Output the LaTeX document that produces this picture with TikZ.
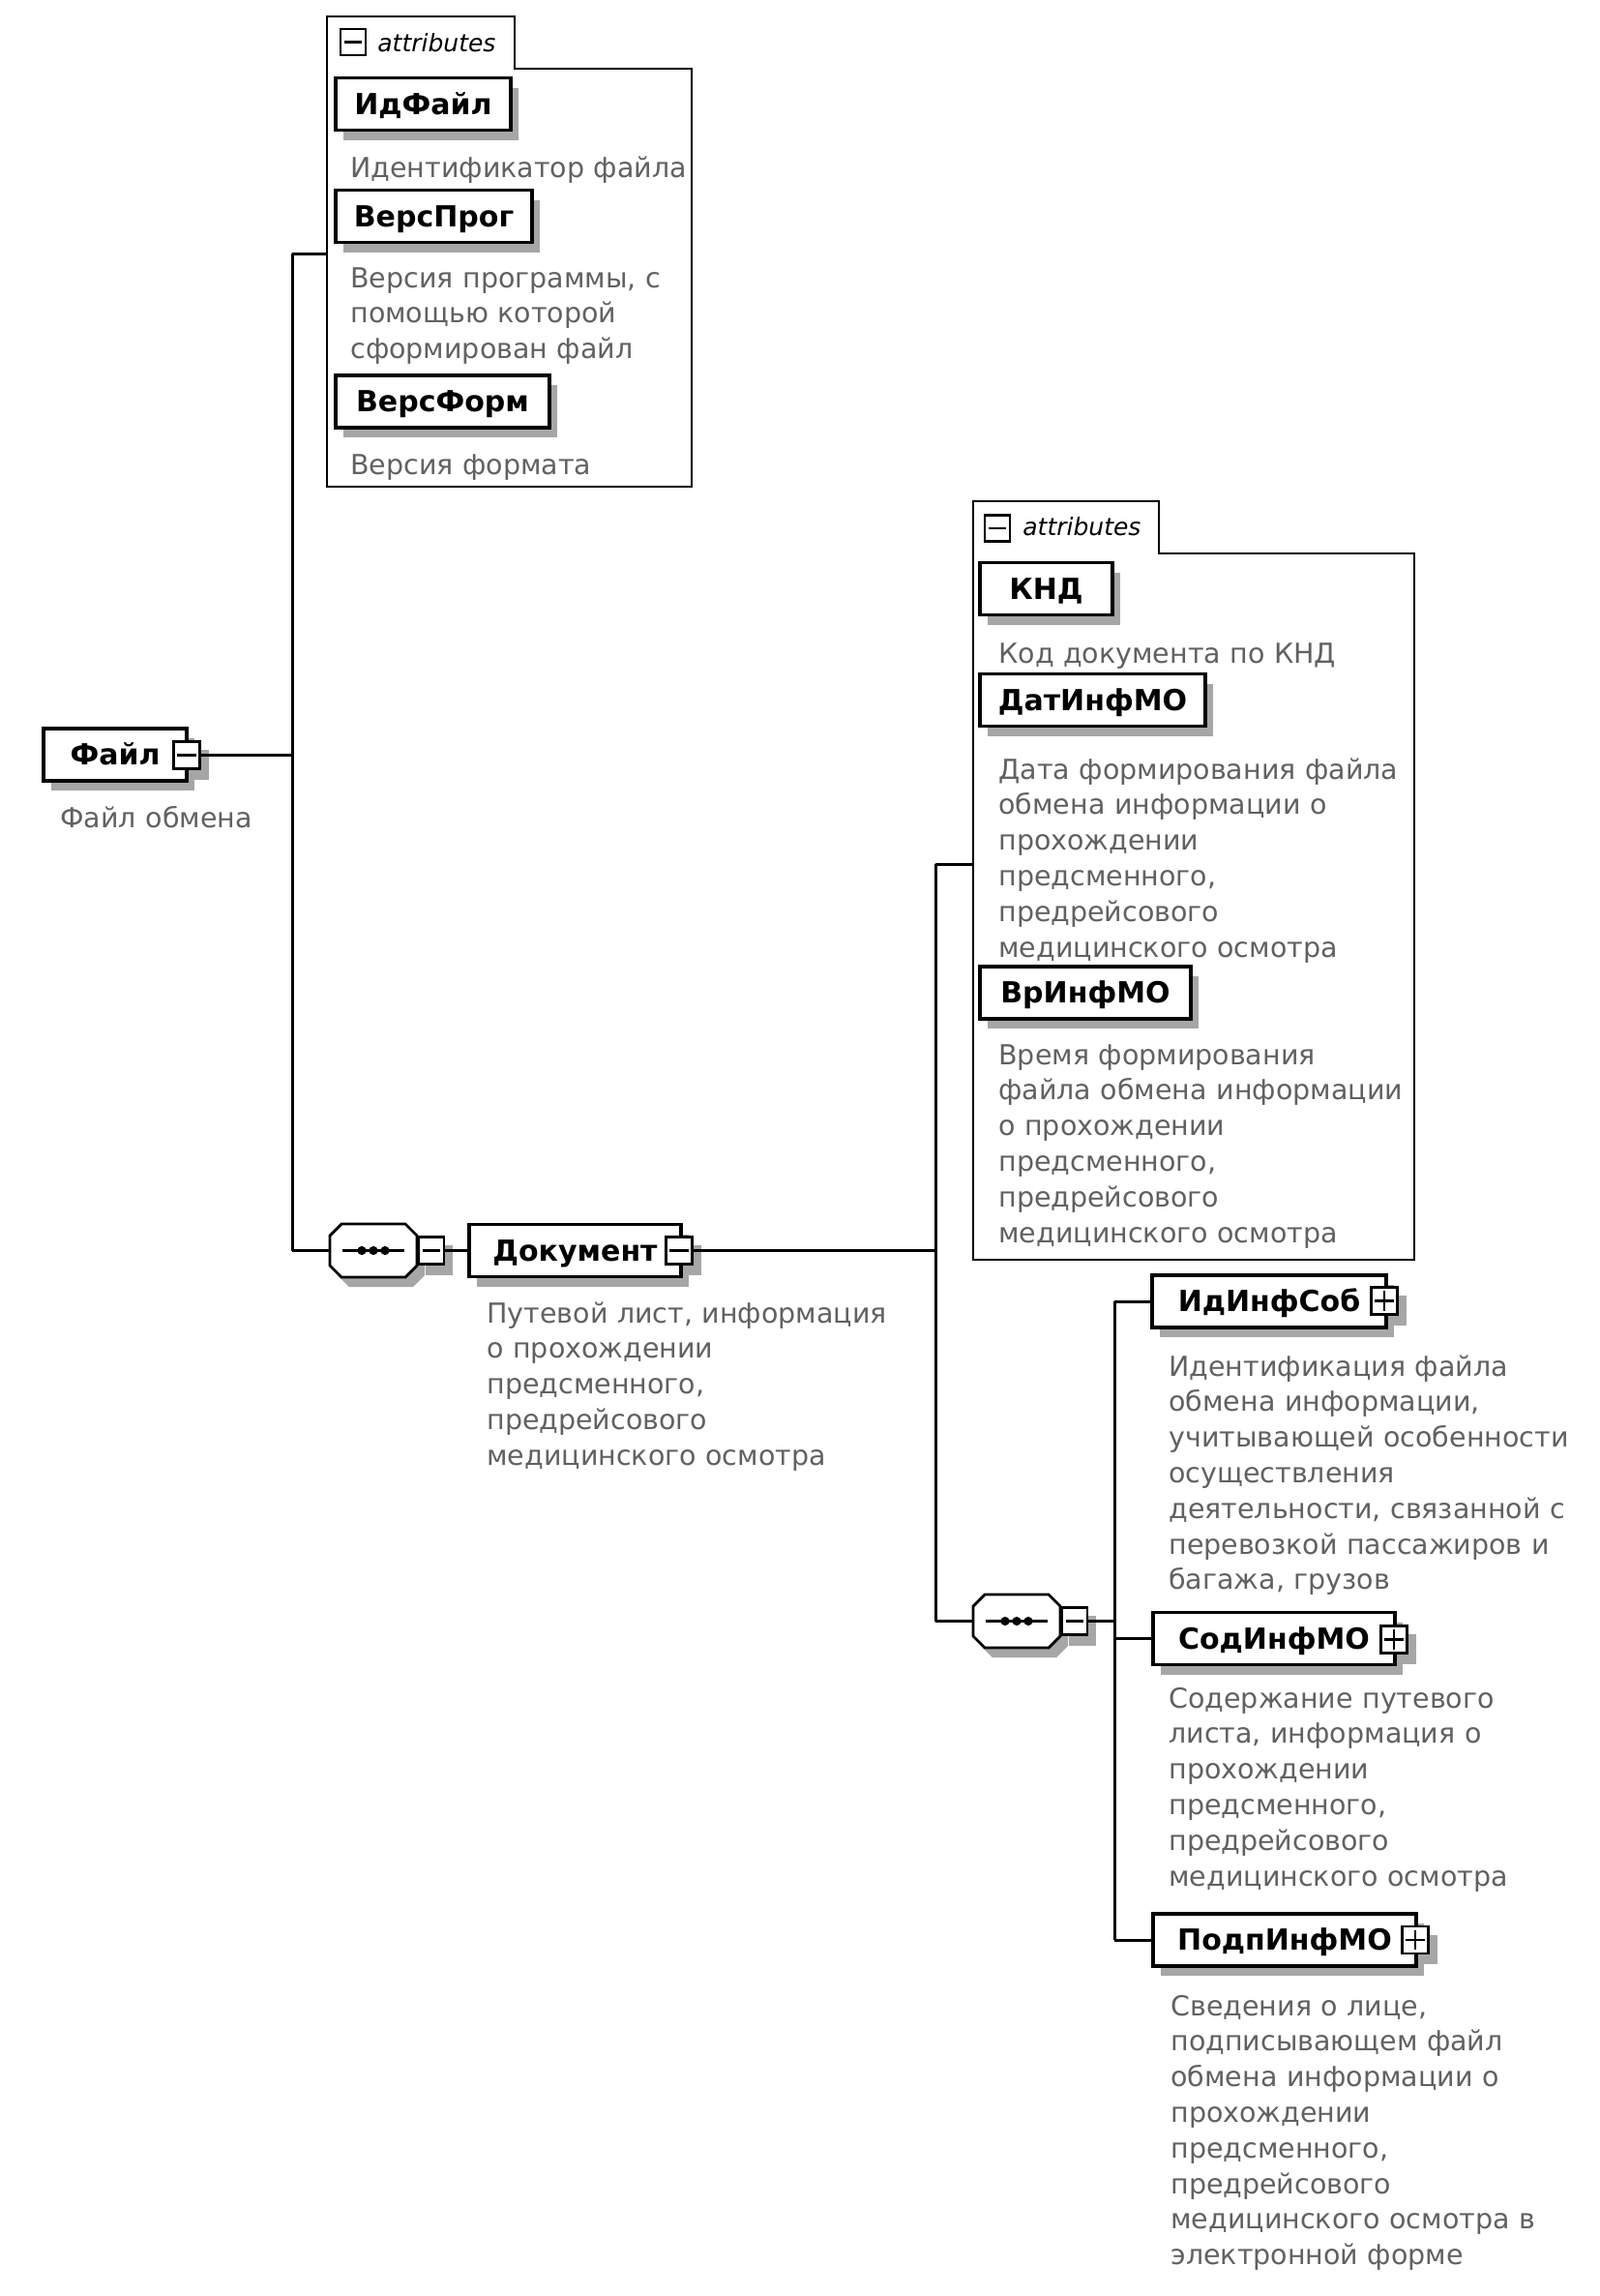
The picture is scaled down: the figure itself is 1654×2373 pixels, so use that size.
\documentclass[tikz,border=0pt]{standalone}
\usepackage{fontspec}
\setmainfont{DejaVu Sans}
\usetikzlibrary{shadows,backgrounds}
\newcommand{\lblfont}{\fontsize{15pt}{18pt}\selectfont\bfseries}
\newcommand{\dscfont}{\fontsize{14.25pt}{18.4pt}\selectfont}
\newcommand{\attfont}{\fontsize{12.5pt}{15pt}\selectfont\itshape}
\tikzset{
  shd/.style={drop shadow={shadow xshift=4pt, shadow yshift=-5pt, fill=black!35, opacity=1}},
  elem/.style={draw, line width=1.7pt, fill=white, inner sep=0pt, minimum height=27pt,
    text height=10.9pt, text depth=0pt, font=\lblfont, shd},
  dsc/.style={anchor=base west, inner sep=0pt, text width=240pt, align=left,
    font=\dscfont, text=black!62},
  attlbl/.style={anchor=base west, inner sep=0pt, font=\attfont},
  conn/.style={line width=1.5pt},
  cont/.style={line width=1.3pt},
  btnbase/.style={draw, line width=1.2pt, fill=white, inner sep=0pt,
    minimum width=13.5pt, minimum height=14pt},
  minusbtn/.style={btnbase, path picture={\draw[line width=1.2pt]
    ([xshift=1.8pt]path picture bounding box.west) --
    ([xshift=-1.8pt]path picture bounding box.east);}},
  plusbtn/.style={btnbase, path picture={\draw[line width=1.2pt]
    ([xshift=1.8pt]path picture bounding box.west) --
    ([xshift=-1.8pt]path picture bounding box.east)
    ([yshift=-1.8pt]path picture bounding box.north) --
    ([yshift=1.8pt]path picture bounding box.south);}},
  seqnode/.style={inner sep=0pt, minimum width=45pt, minimum height=27.5pt},
  shdc/.style={fill=black!35},
}
\newcommand{\seqgroup}[3]{%
  \node[seqnode] (#1) at (#2,#3) {};
  \begin{scope}[shift={(#2,#3)}]
    \fill[shdc] (-25,-17.5) -- (41,-17.5) -- (53,-5.5) -- (53,25.5) -- (41,37.5)
      -- (-25,37.5) -- (-37,25.5) -- (-37,-5.5) -- cycle;
    \draw[line width=1.4pt, fill=white] (-33,-27.5) -- (33,-27.5) -- (45,-15.5) -- (45,15.5)
      -- (33,27.5) -- (-33,27.5) -- (-45,15.5) -- (-45,-15.5) -- cycle;
    \draw[line width=1.1pt] (-32,0) -- (32,0);
    \fill (-12,0) circle[radius=2.3pt] (0,0) circle[radius=2.3pt] (12,0) circle[radius=2.3pt];
  \end{scope}}
\begin{document}
\begin{tikzpicture}[x=0.5pt,y=-0.5pt]
\begin{pgfonlayer}{background}
  \fill[white] (0,0) rectangle (1654,2373);
\end{pgfonlayer}
\useasboundingbox (0,0) rectangle (1654,2373);

% ---------- attributes of Файл ----------
\draw[cont] (338,17) -- (532,17) -- (532,71) -- (715,71) -- (715,503) -- (338,503) -- cycle;
\coordinate (att1) at (338,262);
\node[minusbtn, minimum width=13pt, minimum height=13.5pt] (cb1) at (365,43.5) {};
\node[attlbl] (attl1) at (390,53) {attributes};
\node[elem, minimum width=90.5pt] (idfail) at (437.5,107.5) {ИдФайл};
\node[dsc] (didfail) at (362,183) {Идентификатор файла};
\node[elem, minimum width=101.5pt] (versprog) at (448.5,223.5) {ВерсПрог};
\node[dsc] (dversprog) at (362,297) {Версия программы, с\\помощью которой\\сформирован файл};
\node[elem, minimum width=110.5pt] (versform) at (457.5,415) {ВерсФорм};
\node[dsc] (dversform) at (362,490) {Версия формата};

% ---------- Файл ----------
\node[elem, minimum width=74pt] (fail) at (119,780) {Файл};
\node[minusbtn] (failbtn) at (193,780.5) {};
\node[dsc] (dfail) at (62,855) {Файл обмена};

% ---------- sequence 1 and Документ ----------
\seqgroup{seq1}{386}{1292.5}
\node[minusbtn, minimum width=13pt] (seq1btn) at (446,1292.5) {};
\node[elem, minimum width=109.5pt] (dok) at (594.5,1292.5) {Документ};
\node[minusbtn] (dokbtn) at (702,1292.5) {};
\node[dsc] (ddok) at (503,1367) {Путевой лист, информация\\о прохождении\\предсменного,\\предрейсового\\медицинского осмотра};

% ---------- attributes of Документ ----------
\draw[cont] (1006,518) -- (1198,518) -- (1198,572) -- (1462,572) -- (1462,1302) -- (1006,1302) -- cycle;
\coordinate (att2) at (1006,893);
\node[minusbtn, minimum width=13pt, minimum height=13.5pt] (cb2) at (1031,546) {};
\node[attlbl] (attl2) at (1057,553) {attributes};
\node[elem, minimum width=68.5pt] (knd) at (1081.5,608.5) {КНД};
\node[dsc] (dknd) at (1032,685) {Код документа по КНД};
\node[elem, minimum width=116.5pt] (datinf) at (1129.5,723.5) {ДатИнфМО};
\node[dsc] (ddatinf) at (1032,805) {Дата формирования файла\\обмена информации о\\прохождении\\предсменного,\\предрейсового\\медицинского осмотра};
\node[elem, minimum width=109pt] (vrinf) at (1122,1026) {ВрИнфМО};
\node[dsc] (dvrinf) at (1032,1100) {Время формирования\\файла обмена информации\\о прохождении\\предсменного,\\предрейсового\\медицинского осмотра};

% ---------- sequence 2 and children ----------
\seqgroup{seq2}{1051}{1675.5}
\node[minusbtn, minimum width=13pt] (seq2btn) at (1111,1675.5) {};
\node[elem, minimum width=121pt] (idinf) at (1312,1345) {ИдИнфСоб};
\node[plusbtn] (idinfbtn) at (1431,1344.5) {};
\node[dsc] (didinf) at (1208,1422) {Идентификация файла\\обмена информации,\\учитывающей особенности\\осуществления\\деятельности, связанной с\\перевозкой пассажиров и\\багажа, грузов};
\node[elem, minimum width=125pt] (sod) at (1317,1693.5) {СодИнфМО};
\node[plusbtn] (sodbtn) at (1441,1694.5) {};
\node[dsc] (dsod) at (1208,1765) {Содержание путевого\\листа, информация о\\прохождении\\предсменного,\\предрейсового\\медицинского осмотра};
\node[elem, minimum width=136pt] (podp) at (1328,2005) {ПодпИнфМО};
\node[plusbtn] (podpbtn) at (1463,2005) {};
\node[dsc] (dpodp) at (1210,2083) {Сведения о лице,\\подписывающем файл\\обмена информации о\\прохождении\\предсменного,\\предрейсового\\медицинского осмотра в\\электронной форме};

% ---------- button shadows ----------
\begin{pgfonlayer}{background}
  \foreach \b in {failbtn,dokbtn,idinfbtn,sodbtn,podpbtn,seq1btn,seq2btn}{
    \fill[shdc] ([shift={(4pt,-5pt)}]\b.south west) rectangle ([shift={(4pt,-5pt)}]\b.north east);
  }
\end{pgfonlayer}

% ---------- connectors ----------
\coordinate (v1t) at (302,262);
\coordinate (v1b) at (302,1292.5);
\coordinate (v2t) at (967,893);
\coordinate (v2b) at (967,1675.5);
\coordinate (v3t) at (1152,1345);
\coordinate (v3b) at (1152,2005);
\draw[conn] (v1t) -- (v1b);
\draw[conn] (v1t) -- (att1);
\draw[conn] (failbtn.east) -- (failbtn.east -| v1t);
\draw[conn] (v1b) -- (seq1.west);
\draw[conn] (seq1btn.east) -- (dok.west);
\draw[conn] (dokbtn.east) -- (dokbtn.east -| v2t);
\draw[conn] (v2t) -- (v2b);
\draw[conn] (v2t) -- (att2);
\draw[conn] (v2b) -- (seq2.west);
\draw[conn] (seq2btn.east) -- (seq2btn.east -| v3t);
\draw[conn] (v3t) -- (v3b);
\draw[conn] (v3t) -- (idinf.west);
\draw[conn] (v3t |- sod.west) -- (sod.west);
\draw[conn] (v3b) -- (podp.west);
\end{tikzpicture}
\end{document}
